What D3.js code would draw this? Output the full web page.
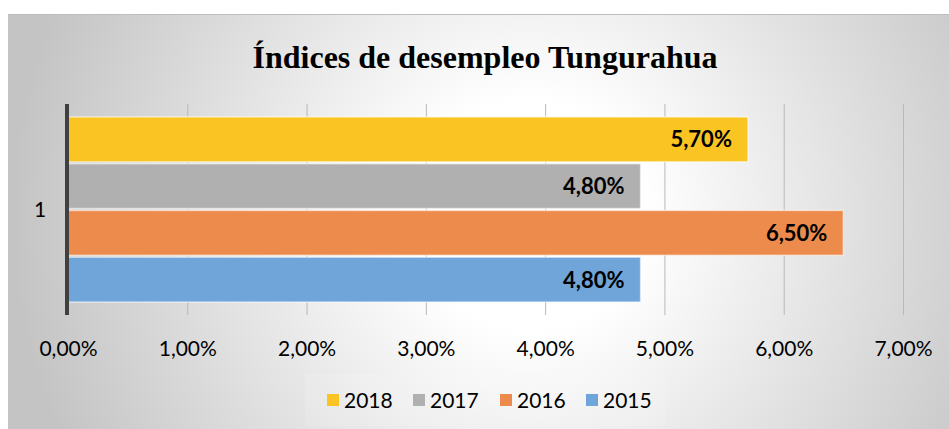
<!DOCTYPE html>
<html>
<head>
<meta charset="utf-8">
<script src="https://cdn.jsdelivr.net/npm/d3@7"></script>
<style>
  body { margin: 0; background: #fff; }
  svg { display: block; }
</style>
</head>
<body>
<div id="chart-area"></div>
<script>
// Data
// ****
const categories = ["1"]
const years = ["2015", "2016", "2017", "2018"]
const values = [4.8, 6.5, 4.8, 5.7]
const colors = ["#6fa5d8", "#ec8b4b", "#b0b0b0", "#fac423"]
const xTicks = [0, 1, 2, 3, 4, 5, 6, 7]
const legendOrder = ["2018", "2017", "2016", "2015"]

// Config
// ******
const W = 949, H = 429
const plot = {left: 68, right: 903, top: 104, bottom: 315}
const fmt = v => v.toFixed(2).replace(".", ",") + "%"

const svg = d3.select("#chart-area")
  .append("svg")
    .attr("width", W)
    .attr("height", H)

// Background
const defs = svg.append("defs")
const grad = defs.append("radialGradient")
  .attr("id", "bg")
  .attr("gradientUnits", "userSpaceOnUse")
  .attr("cx", 530).attr("cy", 215).attr("r", 520)
grad.append("stop").attr("offset", "0%").attr("stop-color", "#ffffff")
grad.append("stop").attr("offset", "22%").attr("stop-color", "#ffffff")
grad.append("stop").attr("offset", "100%").attr("stop-color", "#c4c4c4")

svg.append("rect")
  .attr("x", 8).attr("y", 14)
  .attr("width", W - 8).attr("height", H - 14)
  .attr("fill", "url(#bg)")
svg.append("line")
  .attr("x1", 8).attr("x2", W).attr("y1", 14.5).attr("y2", 14.5)
  .attr("stroke", "#bdbdbd")

// Title
svg.append("text")
  .attr("x", 485).attr("y", 68)
  .attr("text-anchor", "middle")
  .attr("font-family", "'Liberation Serif', 'Times New Roman', serif")
  .attr("font-weight", "bold")
  .attr("font-size", "32px")
  .attr("fill", "#000")
  .text("Índices de desempleo Tungurahua")

// Scales
const x = d3.scaleLinear().domain([0, 7]).range([plot.left, plot.right])
const y0 = d3.scaleBand().domain(categories).range([plot.top, plot.bottom]).paddingOuter(0.07)
const y1 = d3.scaleBand().domain(years.slice().reverse()).range([0, y0.bandwidth()]).paddingInner(0.04)

// Gridlines
svg.append("g")
  .selectAll("line")
  .data(xTicks.slice(1))
  .enter().append("line")
    .attr("x1", d => x(d) + 0.5).attr("x2", d => x(d) + 0.5)
    .attr("y1", plot.top).attr("y2", plot.bottom)
    .attr("stroke", "#b9b9b9")
    .attr("stroke-width", 1)

// Bars
const rows = years.map((yr, i) => ({year: yr, value: values[i], color: colors[i]}))
const gBars = svg.append("g")
  .attr("transform", "translate(0," + y0(categories[0]) + ")")
gBars.selectAll("rect")
  .data(rows)
  .enter().append("rect")
    .attr("x", x(0))
    .attr("y", d => y1(d.year))
    .attr("width", d => x(d.value) - x(0))
    .attr("height", y1.bandwidth())
    .attr("fill", d => d.color)
    .attr("stroke", "rgba(255,255,255,0.55)")
    .attr("stroke-width", 1.5)

// Data labels
gBars.selectAll("text")
  .data(rows)
  .enter().append("text")
    .attr("x", d => x(d.value) - 16)
    .attr("y", d => y1(d.year) + y1.bandwidth() / 2)
    .attr("dy", "0.36em")
    .attr("text-anchor", "end")
    .attr("font-family", "Lato, 'Open Sans', sans-serif")
    .attr("font-weight", "bold")
    .attr("font-size", "22px")
    .attr("fill", "#000")
    .text(d => fmt(d.value))

// Left axis line
svg.append("line")
  .attr("x1", plot.left - 1).attr("x2", plot.left - 1)
  .attr("y1", plot.top).attr("y2", plot.bottom)
  .attr("stroke", "#404040")
  .attr("stroke-width", 4)

// Category label
svg.append("text")
  .attr("x", 40).attr("y", y0(categories[0]) + y0.bandwidth() / 2)
  .attr("dy", "0.36em")
  .attr("text-anchor", "middle")
  .attr("font-family", "Lato, 'Open Sans', sans-serif")
  .attr("font-size", "21px")
  .attr("fill", "#000")
  .text(categories[0])

// Bottom axis
const bottomAxis = d3.axisBottom(x).tickValues(xTicks).tickFormat(fmt).tickSize(0).tickPadding(0)
const gx = svg.append("g")
  .attr("class", "bottom axis")
  .attr("transform", "translate(0," + 341 + ")")
  .call(bottomAxis)
gx.select(".domain").remove()
gx.selectAll("text")
  .attr("font-family", "Lato, 'Open Sans', sans-serif")
  .attr("font-size", "21px")
  .attr("fill", "#000")

// Legend
const legendX = [327, 413, 500, 586]
const legend = svg.append("g")
legend.append("rect")
  .attr("x", 305).attr("y", 374).attr("width", 360).attr("height", 52)
  .attr("fill", "rgba(255,255,255,0.12)")
const items = legend.selectAll("g.item")
  .data(legendOrder)
  .enter().append("g")
    .attr("class", "item")
    .attr("transform", (d, i) => "translate(" + legendX[i] + ",400)")
items.append("rect")
  .attr("x", 0).attr("y", -6)
  .attr("width", 12).attr("height", 12)
  .attr("fill", d => colors[years.indexOf(d)])
items.append("text")
  .attr("x", 17).attr("dy", "0.36em")
  .attr("font-family", "Lato, 'Open Sans', sans-serif")
  .attr("font-size", "21px")
  .attr("fill", "#000")
  .text(d => d)
</script>
</body>
</html>
